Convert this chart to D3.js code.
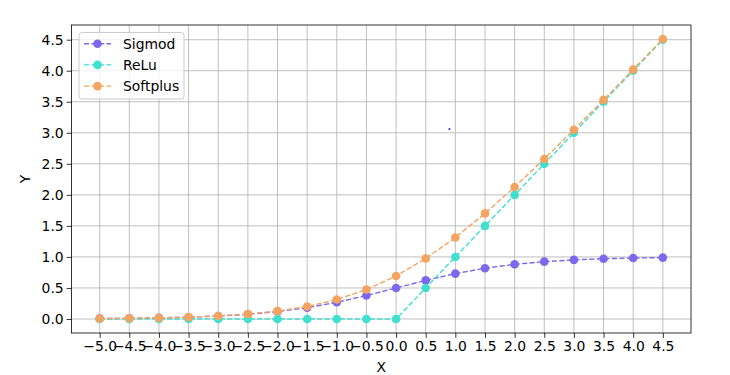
<!DOCTYPE html>
<html><head><meta charset="utf-8">
<script src="https://cdn.jsdelivr.net/npm/d3@7"></script>
<style>body{margin:0;background:#fff}svg{display:block}text{font-family:"DejaVu Sans",sans-serif;}</style>
</head><body><svg id="c" width="730" height="375"></svg>
<script>
const xValues = [-5.0,-4.5,-4.0,-3.5,-3.0,-2.5,-2.0,-1.5,-1.0,-0.5,0.0,0.5,1.0,1.5,2.0,2.5,3.0,3.5,4.0,4.5];
const sigmoidValues = [0.0067,0.0110,0.0180,0.0293,0.0474,0.0759,0.1192,0.1824,0.2689,0.3775,0.5,0.6225,0.7311,0.8176,0.8808,0.9241,0.9526,0.9707,0.9820,0.9890];
const reluValues = [0,0,0,0,0,0,0,0,0,0,0,0.5,1.0,1.5,2.0,2.5,3.0,3.5,4.0,4.5];
const softplusValues = [0.0067,0.0111,0.0181,0.0298,0.0486,0.0789,0.1269,0.2014,0.3133,0.4741,0.6931,0.9741,1.3133,1.7014,2.1269,2.5789,3.0486,3.5298,4.0181,4.5111];
const seriesNames = ["Sigmod","ReLu","Softplus"];
const xTicks = [-5.0,-4.5,-4.0,-3.5,-3.0,-2.5,-2.0,-1.5,-1.0,-0.5,0.0,0.5,1.0,1.5,2.0,2.5,3.0,3.5,4.0,4.5];
const yTicks = [0.0,0.5,1.0,1.5,2.0,2.5,3.0,3.5,4.0,4.5];
const strayPoint = [[0.9, 3.06]];
const xLabel = "X", yLabel = "Y";

const colors = ["#7B68EE","#40E0D0","#F4A460"];
const series = [sigmoidValues, reluValues, softplusValues].map((v,i)=>({name:seriesNames[i], color:colors[i], values:v}));

const L=71.5, R=691, T=25, B=333;
const svg = d3.select("#c");
const xmin=-5, xmax=4.5, xpad=(xmax-xmin)*0.05;
const ymax=d3.max(softplusValues), ypad=ymax*0.05;
const x = d3.scaleLinear().domain([xmin-xpad, xmax+xpad]).range([L,R]);
const y = d3.scaleLinear().domain([0-ypad, ymax+ypad]).range([B,T]);

// grid
const g = svg.append("g");
g.selectAll(".gx").data(xTicks).enter().append("line")
 .attr("x1",d=>x(d)).attr("x2",d=>x(d)).attr("y1",T).attr("y2",B)
 .attr("stroke","#b0b0b0").attr("stroke-width",0.8);
g.selectAll(".gy").data(yTicks).enter().append("line")
 .attr("y1",d=>y(d)).attr("y2",d=>y(d)).attr("x1",L).attr("x2",R)
 .attr("stroke","#b0b0b0").attr("stroke-width",0.8);

// series
const line = d3.line().x((d,i)=>x(xValues[i])).y(d=>y(d));
series.forEach(s=>{
  const sg = svg.append("g");
  sg.append("path").attr("d",line(s.values)).attr("fill","none")
    .attr("stroke",s.color).attr("stroke-width",1.4).attr("stroke-dasharray","5.2,2.3");
  sg.selectAll("circle").data(s.values).enter().append("circle")
    .attr("cx",(d,i)=>x(xValues[i])).attr("cy",d=>y(d)).attr("r",4.3).attr("fill",s.color);
});

// stray single point
svg.selectAll(".stray").data(strayPoint).enter().append("rect")
 .attr("x",d=>x(d[0])-0.8).attr("y",d=>y(d[1])-0.8).attr("width",1.6).attr("height",1.6)
 .attr("fill","#0000ff");

// axes
const fmt = d3.format(".1f");
const minus = v => fmt(v).replace("-","\u2212");
const xa = svg.append("g").attr("transform",`translate(0,${B})`)
 .call(d3.axisBottom(x).tickValues(xTicks).tickFormat(minus).tickSize(4.86).tickPadding(3));
const ya = svg.append("g").attr("transform",`translate(${L},0)`)
 .call(d3.axisLeft(y).tickValues(yTicks).tickFormat(minus).tickSize(4.86).tickPadding(3));
[xa,ya].forEach(a=>{
  a.select(".domain").remove();
  a.selectAll("line").attr("stroke","#000").attr("stroke-width",0.8);
  a.selectAll("text").attr("font-family","DejaVu Sans").attr("font-size",13.9).attr("fill","#000");
});
svg.append("rect").attr("x",L).attr("y",T).attr("width",R-L).attr("height",B-T)
 .attr("fill","none").attr("stroke","#000").attr("stroke-width",0.8);

svg.append("text").attr("x",(L+R)/2).attr("y",372).attr("text-anchor","middle")
 .attr("font-size",13.9).text(xLabel);
svg.append("text").attr("transform",`translate(30,${(T+B)/2}) rotate(-90)`).attr("text-anchor","middle")
 .attr("font-size",13.9).text(yLabel);

// legend
const lg = svg.append("g");
lg.append("rect").attr("x",79).attr("y",32.5).attr("width",105).attr("height",66.5).attr("rx",3)
 .attr("fill","#fff").attr("fill-opacity",0.8).attr("stroke","#cccccc").attr("stroke-width",1);
series.forEach((s,i)=>{
  const cy = 43.7 + i*21.2;
  lg.append("line").attr("x1",84).attr("x2",111).attr("y1",cy).attr("y2",cy)
    .attr("stroke",s.color).attr("stroke-width",1.4).attr("stroke-dasharray","5.2,2.3");
  lg.append("circle").attr("cx",97.5).attr("cy",cy).attr("r",4.3).attr("fill",s.color);
  lg.append("text").attr("x",123).attr("y",cy+5).attr("font-size",13.9).text(s.name);
});
</script></body></html>
